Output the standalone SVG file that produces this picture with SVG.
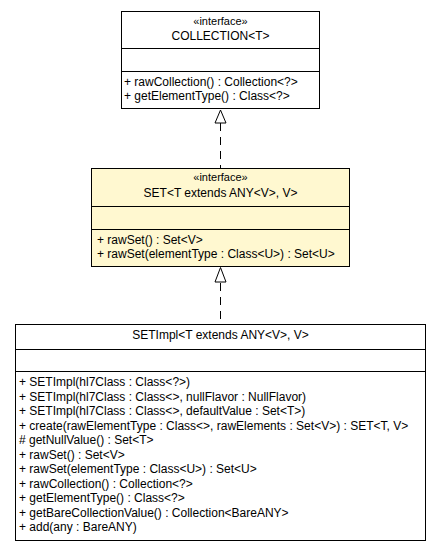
<svg xmlns="http://www.w3.org/2000/svg" width="440" height="552" viewBox="0 0 440 552">
<defs>
<style>
.box{stroke:#000;stroke-width:1}
.plain{fill:#fff}
.iface2{fill:#fff8d0}
text{font-family:"Liberation Sans",Arial,sans-serif;font-size:12px;fill:#000}
.c{text-anchor:middle}
.st{font-size:11px}
.conn{stroke:#000;stroke-width:1;fill:none;stroke-dasharray:8,6}
.head{fill:#fff;stroke:#000;stroke-width:1}
</style>
</defs>
<rect width="440" height="552" fill="#fff"/>
<g id="connectors">
<path class="conn" d="M220.5,123 V168"/>
<polygon class="head" points="220.5,110 215,123 226,123"/>
<path class="conn" d="M220.5,283 V324.5"/>
<polygon class="head" points="220.5,267.5 215,282 226,282"/>
</g>
<g id="COLLECTION">
<rect class="box plain" x="121.5" y="11.5" width="198" height="97"/>
<line class="box" x1="121.5" y1="48.5" x2="319.5" y2="48.5"/>
<line class="box" x1="121.5" y1="71.5" x2="319.5" y2="71.5"/>
<text class="c st" x="220.5" y="25">«interface»</text>
<text class="c" x="220.5" y="40">COLLECTION&lt;T&gt;</text>
<text x="124" y="86">+ rawCollection() : Collection&lt;?&gt;</text>
<text x="124" y="100">+ getElementType() : Class&lt;?&gt;</text>
</g>
<g id="SET">
<rect class="box iface2" x="91.5" y="168.5" width="258" height="98"/>
<line class="box" x1="91.5" y1="206.5" x2="349.5" y2="206.5"/>
<line class="box" x1="91.5" y1="229.5" x2="349.5" y2="229.5"/>
<text class="c st" x="220.5" y="181">«interface»</text>
<text class="c" x="220.5" y="197">SET&lt;T extends ANY&lt;V&gt;, V&gt;</text>
<text x="97" y="244">+ rawSet() : Set&lt;V&gt;</text>
<text x="97" y="258">+ rawSet(elementType : Class&lt;U&gt;) : Set&lt;U&gt;</text>
</g>
<g id="SETImpl">
<rect class="box plain" x="15.5" y="324.5" width="410" height="216"/>
<line class="box" x1="15.5" y1="349.5" x2="425.5" y2="349.5"/>
<line class="box" x1="15.5" y1="371.5" x2="425.5" y2="371.5"/>
<text class="c" x="220.5" y="339">SETImpl&lt;T extends ANY&lt;V&gt;, V&gt;</text>
<text x="19" y="386">+ SETImpl(hl7Class : Class&lt;?&gt;)</text>
<text x="19" y="400.5">+ SETImpl(hl7Class : Class&lt;&gt;, nullFlavor : NullFlavor)</text>
<text x="19" y="415">+ SETImpl(hl7Class : Class&lt;&gt;, defaultValue : Set&lt;T&gt;)</text>
<text x="19" y="429.5">+ create(rawElementType : Class&lt;&gt;, rawElements : Set&lt;V&gt;) : SET&lt;T, V&gt;</text>
<text x="19" y="444"># getNullValue() : Set&lt;T&gt;</text>
<text x="19" y="458.5">+ rawSet() : Set&lt;V&gt;</text>
<text x="19" y="473">+ rawSet(elementType : Class&lt;U&gt;) : Set&lt;U&gt;</text>
<text x="19" y="487.5">+ rawCollection() : Collection&lt;?&gt;</text>
<text x="19" y="502">+ getElementType() : Class&lt;?&gt;</text>
<text x="19" y="516.5">+ getBareCollectionValue() : Collection&lt;BareANY&gt;</text>
<text x="19" y="531">+ add(any : BareANY)</text>
</g>
</svg>
